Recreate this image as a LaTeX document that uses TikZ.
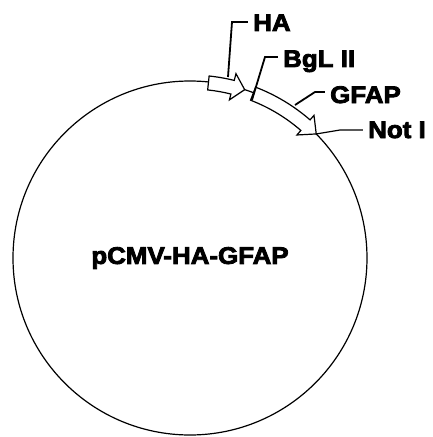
\documentclass[tikz,border=0pt]{standalone}
\usepackage{fontspec}
\newfontfamily\heavy{Liberation Sans Bold}[FakeStretch=1.08, FakeBold=3.5]
\usepackage{tikz}

\tikzset{
  gene/.style={draw, fill=white, line width=1.2pt, line join=miter},
  lead/.style={draw, line width=1.8pt},
  site/.style={anchor=base west, inner sep=0pt, font=\fontsize{24}{28}\heavy}
}

\begin{document}
\begin{tikzpicture}[x=1pt, y=1pt]
    \useasboundingbox (-190,-179) rectangle (243,258);

    % Plasmid ring
    \node[draw, circle, line width=1.2pt, minimum size=354pt, inner sep=0pt,
          font=\fontsize{24}{28}\heavy] (plasmid) at (0,0) {pCMV-HA-GFAP};

    % HA tag
    \draw[gene] (84:169pt) -- (84:183pt) arc[start angle=84, end angle=76, radius=183pt]
        -- (76:190pt) -- (72:177pt) -- (76:163pt) -- (76:169pt)
        arc[start angle=76, end angle=84, radius=169pt] -- cycle;

    % GFAP insert
    \draw[gene] (69:169pt) -- (69:183pt) arc[start angle=69, end angle=49, radius=183pt]
        -- (49:189pt) -- (44.5:177pt) -- (49:163pt) -- (49:169pt)
        arc[start angle=49, end angle=69, radius=169pt] -- cycle;

    % Labels
    \node[site] (ha)   at (63,227)  {HA};
    \node[site] (bgl)  at (93,191)  {BgL II};
    \node[site] (gfap) at (140,155) {GFAP};
    \node[site] (noti) at (178,120) {Not I};

    % Leader points
    \coordinate (haPt)   at (38,181);
    \coordinate (haKnee) at (42,236);
    \coordinate (bglPt)   at (62,158);
    \coordinate (bglKnee) at (75,201);
    \coordinate (gfapPt)   at (105,153);
    \coordinate (gfapKnee) at (125,166);
    \coordinate (notiPt)   at (44.5:177pt);
    \coordinate (notiKnee) at (150,128);

    % Leader lines
    \draw[lead] (haPt) -- (haKnee) -- ([xshift=-5pt]ha.west |- haKnee);
    \draw[lead] (bglPt) -- (bglKnee) -- ([xshift=-5pt]bgl.west |- bglKnee);
    \draw[lead] (gfapPt) -- (gfapKnee) -- ([xshift=-5pt]gfap.west |- gfapKnee);
    \draw[line width=1.2pt] (notiPt) -- (notiKnee) -- ([xshift=-5pt]noti.west |- notiKnee);
\end{tikzpicture}
\end{document}
